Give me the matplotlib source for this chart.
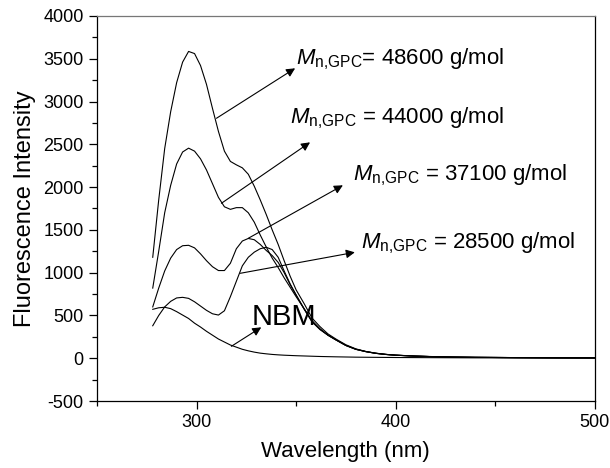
import matplotlib
matplotlib.use("Agg")
import matplotlib.pyplot as plt
from matplotlib.ticker import MultipleLocator

plt.rcParams['font.family'] = ['Liberation Sans', 'DejaVu Sans']
plt.rcParams['mathtext.fontset'] = 'custom'
plt.rcParams['mathtext.it'] = 'Liberation Sans:italic'
plt.rcParams['mathtext.rm'] = 'Liberation Sans'
plt.rcParams['axes.unicode_minus'] = False

wavelength = [278, 281, 284, 287, 290, 293, 296, 299, 302, 305, 308, 311, 314, 317,
              320, 323, 326, 329, 332, 335, 338, 341, 344, 347, 350, 354, 358, 362,
              366, 370, 375, 380, 385, 390, 395, 400, 410, 420, 430, 440, 460, 480, 500]

tail = [270, 215, 150, 105, 78, 58, 45, 36, 25, 18, 14, 11, 8, 6, 5]

m48600 = [1180, 1850, 2450, 2880, 3220, 3460, 3585, 3560, 3420, 3200, 2920, 2650, 2420, 2300,
          2260, 2225, 2150, 2010, 1850, 1680, 1500, 1330, 1140, 960, 800, 640, 470, 370] + \
         [285, 225, 158, 110, 80, 60, 46, 37, 26, 19, 14, 11, 8, 6, 5]
m44000 = [820, 1250, 1700, 2020, 2270, 2410, 2455, 2420, 2330, 2200, 2040, 1880, 1770, 1740,
          1760, 1760, 1700, 1590, 1440, 1300, 1170, 1060, 940, 830, 720, 580, 440, 345] + tail
m37100 = [600, 820, 1020, 1170, 1270, 1315, 1320, 1290, 1220, 1140, 1070, 1025, 1025, 1110,
          1280, 1370, 1400, 1385, 1330, 1260, 1200, 1120, 1000, 860, 740, 580, 430, 340] + tail
m28500 = [380, 500, 600, 665, 705, 712, 700, 660, 610, 560, 520, 505, 555, 720,
          900, 1080, 1180, 1240, 1280, 1297, 1270, 1180, 1020, 870, 740, 575, 425, 335] + tail
nbm = [572, 590, 596, 580, 545, 505, 465, 410, 365, 315, 270, 225, 190, 155,
       130, 105, 87, 72, 60, 52, 45, 40, 36, 33, 30, 27, 24, 21,
       19, 17, 15, 13, 12, 11, 10, 9, 8, 7, 6, 5, 4, 3, 2]

series = [m48600, m44000, m37100, m28500, nbm]

fig = plt.figure(figsize=(6.10, 4.68), dpi=100)
ax = fig.add_axes([0.159, 0.143, 0.816, 0.823])

for s in series:
    ax.plot(wavelength, s, color='black', lw=0.8)

ax.set_xlim(250, 500)
ax.set_ylim(-500, 4000)
ax.xaxis.set_major_locator(MultipleLocator(100))
ax.xaxis.set_minor_locator(MultipleLocator(50))
ax.yaxis.set_major_locator(MultipleLocator(500))
ax.yaxis.set_minor_locator(MultipleLocator(250))
ax.tick_params(which='both', direction='out', top=False, right=False, width=0.9, labelsize=13)
ax.tick_params(which='major', length=6)
ax.tick_params(which='minor', length=3.5)
for sp in ax.spines.values():
    sp.set_linewidth(0.9)
ax.spines['top'].set_color('#777777')

ax.set_xlabel('Wavelength (nm)', fontsize=16, labelpad=7)
ax.set_ylabel('Fluorescence Intensity', fontsize=17, labelpad=5)

arrow = dict(arrowstyle='-|>', color='black', lw=0.8, mutation_scale=13, shrinkA=0, shrinkB=0)

labels = [r'$M_{\rm n{,}GPC}$= 48600 g/mol', r'$M_{\rm n{,}GPC}$ = 44000 g/mol',
          r'$M_{\rm n{,}GPC}$ = 37100 g/mol', r'$M_{\rm n{,}GPC}$ = 28500 g/mol']
label_pos = [(350, 3435), (347, 2745), (378.5, 2079), (382.5, 1285)]
arrow_start = [(310, 2804), (312.5, 1811), (326, 1402), (322, 993)]
arrow_end = [(349.5, 3388), (357, 2523), (373.5, 2021), (379.5, 1238)]

for lab, pos, a0, a1 in zip(labels, label_pos, arrow_start, arrow_end):
    ax.annotate('', xy=a1, xytext=a0, arrowprops=arrow)
    ax.text(pos[0], pos[1], lab, fontsize=16, va='baseline', ha='left')

ax.annotate('', xy=(332.5, 362), xytext=(317.5, 140), arrowprops=arrow)
ax.text(327.5, 386, 'NBM', fontsize=21, va='baseline', ha='left')

fig.savefig('out.png', dpi=100)
